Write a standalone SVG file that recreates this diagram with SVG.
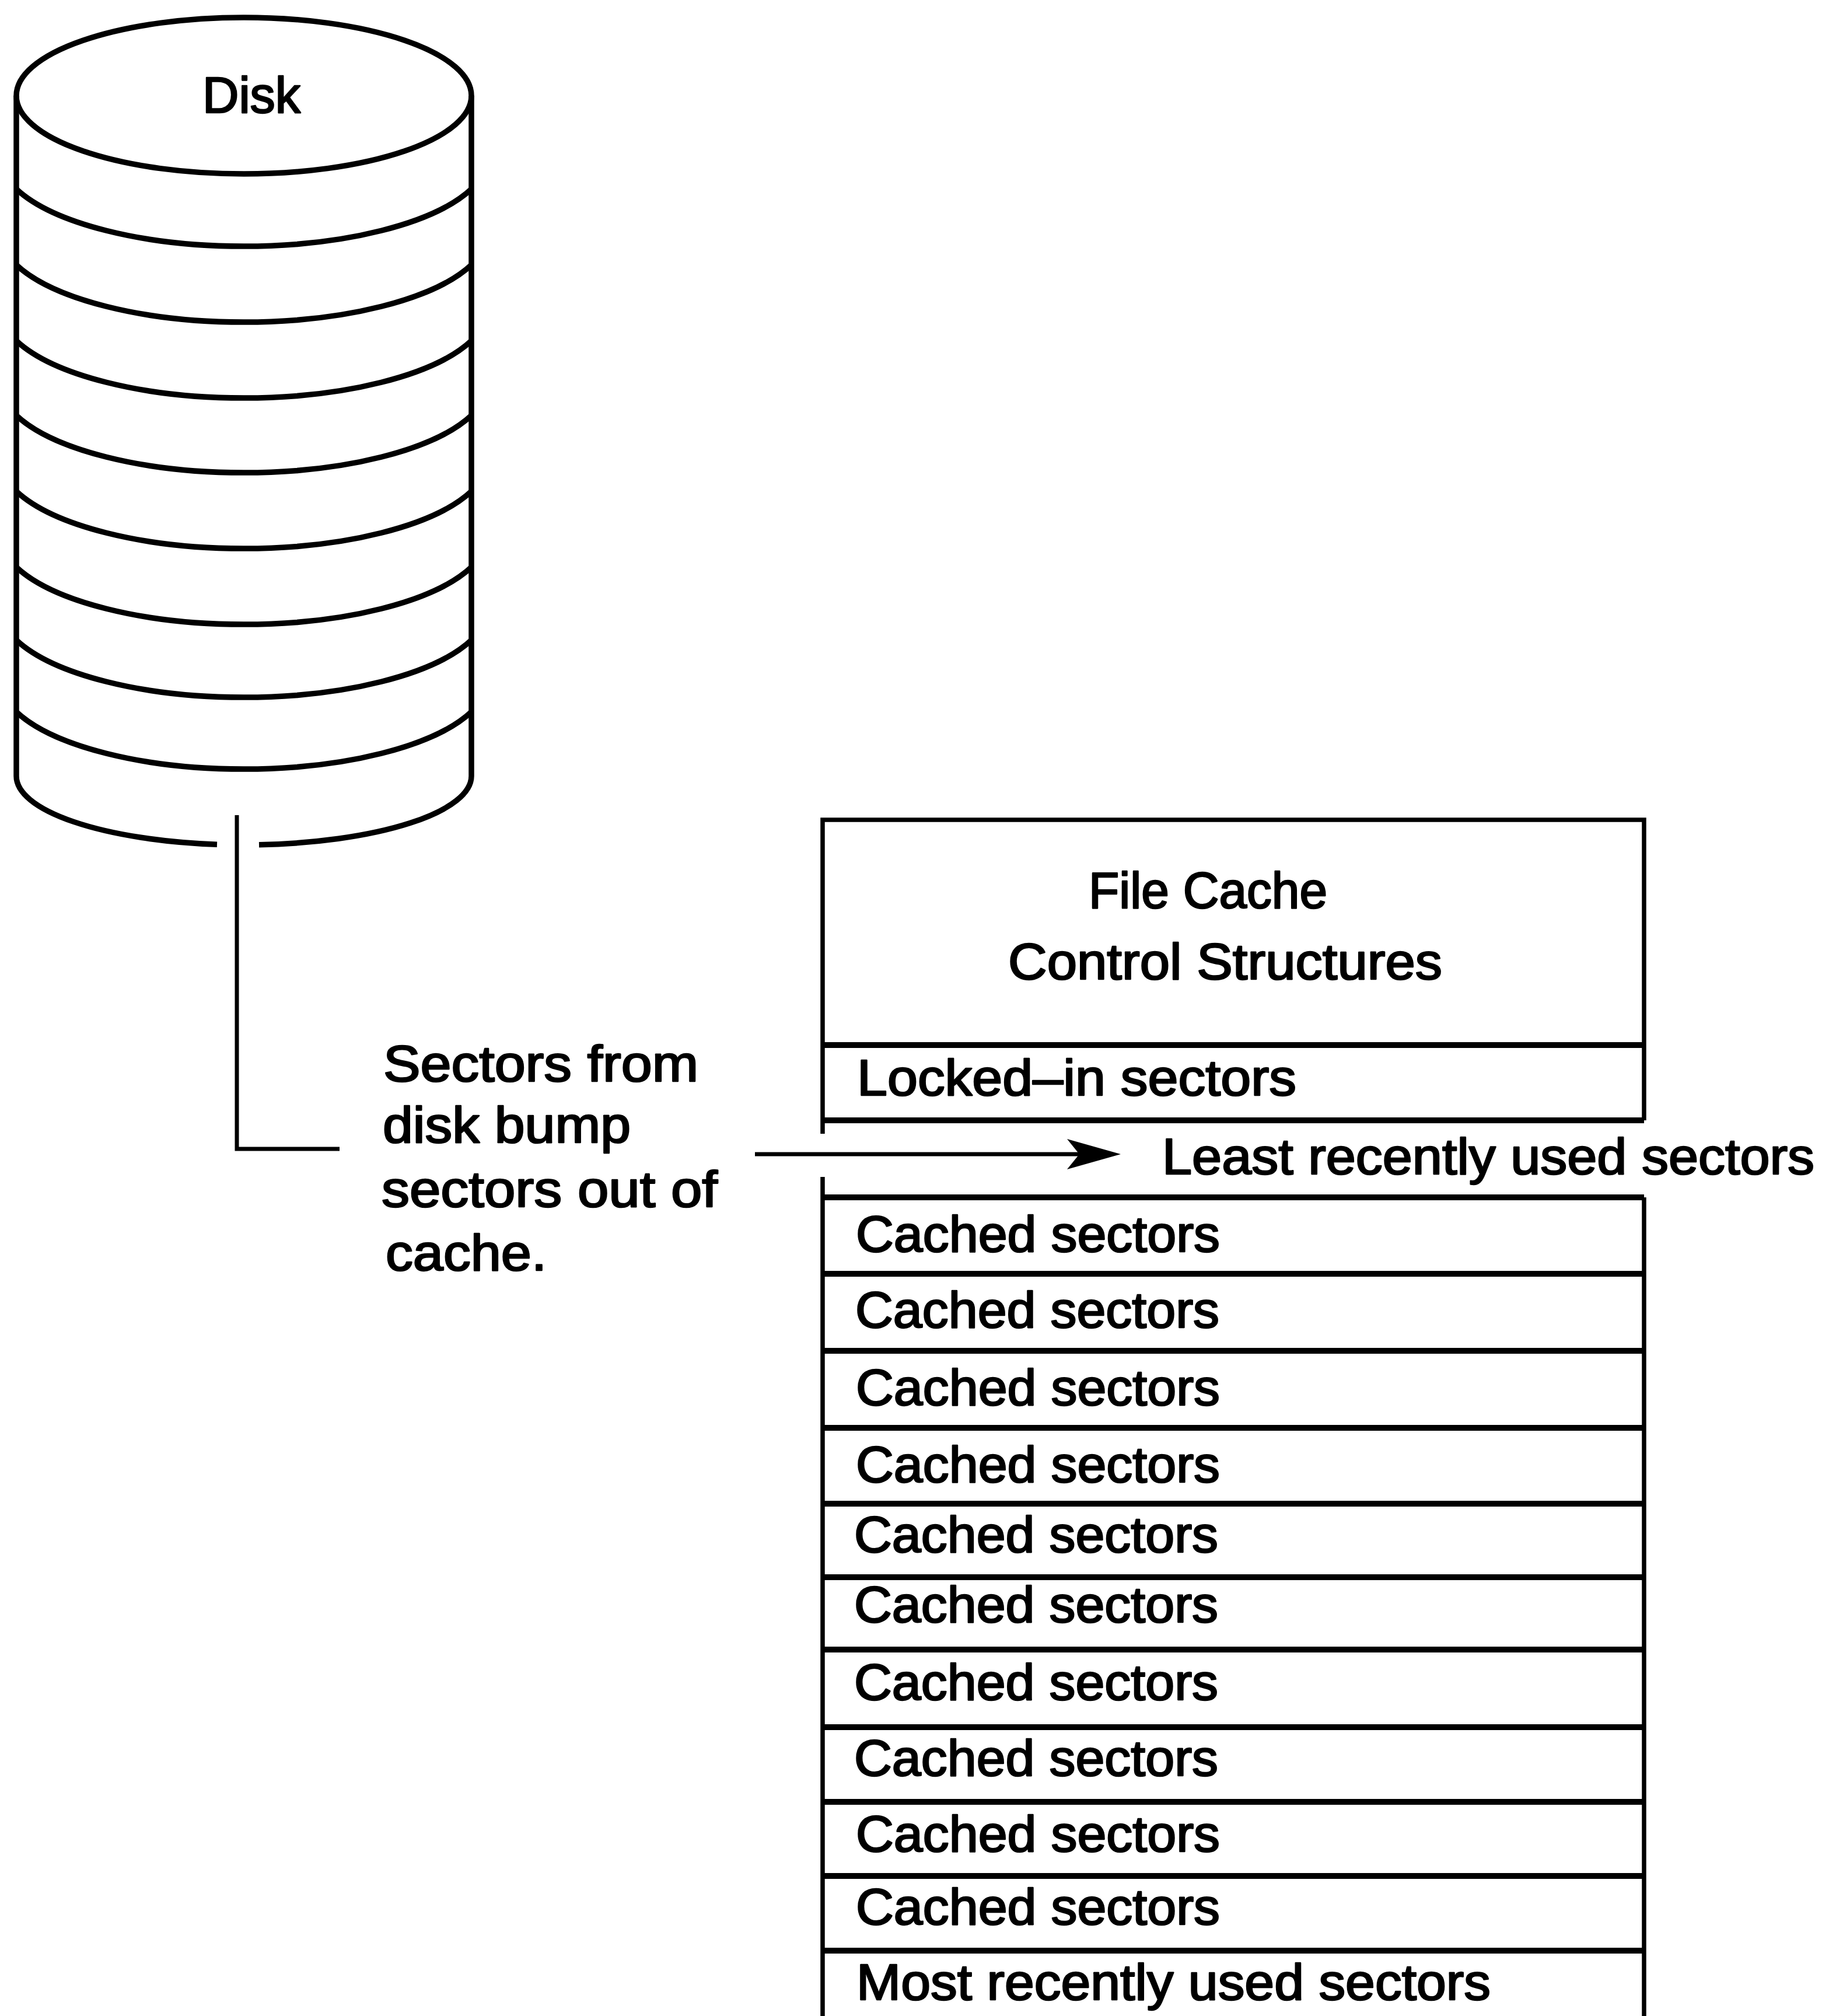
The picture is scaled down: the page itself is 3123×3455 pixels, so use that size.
<svg xmlns="http://www.w3.org/2000/svg" width="3123" height="3455" viewBox="0 0 3123 3455">
  <style>
    .ln { fill: none; stroke: #000; stroke-linecap: butt; stroke-linejoin: miter; }
    .disk { stroke-width: 9.5; }
    .row { stroke-width: 10; }
    .edge { stroke-width: 7.5; }
    .wire { stroke-width: 7; }
    .t { font-family: "Liberation Sans", Arial, sans-serif; font-size: 88px; fill: #000; stroke: #000; stroke-width: 2.6; stroke-linejoin: round; }
  </style>
  <defs>
    <marker id="arrowhead" viewBox="0 0 92 52" refX="40" refY="26" markerWidth="92" markerHeight="52" markerUnits="userSpaceOnUse" orient="auto">
      <path d="M0,0 L92,26 L0,52 L21,26 Z" fill="#000"/>
    </marker>
  </defs>

  <rect width="3123" height="3455" fill="#fff"/>

  <!-- Disk drawn as a stack of platters -->
  <g id="disk">
    <ellipse class="ln disk" cx="418" cy="164" rx="390" ry="134"/>
    <path class="ln disk" d="M28,164 V1330 M808,164 V1330"/>
    <path class="ln disk" d="M28,324 A420,156 0 0 0 808,324"/>
    <path class="ln disk" d="M28,454 A420,156 0 0 0 808,454"/>
    <path class="ln disk" d="M28,584 A420,156 0 0 0 808,584"/>
    <path class="ln disk" d="M28,712 A420,156 0 0 0 808,712"/>
    <path class="ln disk" d="M28,842 A420,156 0 0 0 808,842"/>
    <path class="ln disk" d="M28,972 A420,156 0 0 0 808,972"/>
    <path class="ln disk" d="M28,1097 A420,156 0 0 0 808,1097"/>
    <path class="ln disk" d="M28,1220 A420,156 0 0 0 808,1220"/>
    <path class="ln disk" d="M28,1330 A390,118 0 0 0 372,1447.2"/>
    <path class="ln disk" d="M444,1447.7 A390,118 0 0 0 808,1330"/>
    <text class="t" x="347" y="193" font-size="90" textLength="168" lengthAdjust="spacingAndGlyphs">Disk</text>
  </g>

  <!-- File cache: control structures, locked-in area, LRU list -->
  <g id="file-cache">
    <path class="ln edge" d="M1410,1943 V1405 H2818 V1920"/>
    <path class="ln row" d="M1410,1791 H2818 M1410,1920 H2818"/>
    <path class="ln edge" d="M1410,2017 V3460 M2818,2052 V3460"/>
    <path class="ln row" d="M1410,2052 H2818 M1410,2183 H2818 M1410,2315 H2818 M1410,2447 H2818 M1410,2577 H2818 M1410,2703 H2818 M1410,2827 H2818 M1410,2960 H2818 M1410,3088 H2818 M1410,3215 H2818 M1410,3343 H2818"/>
    <text class="t" x="1866" y="1556" textLength="409" lengthAdjust="spacingAndGlyphs">File Cache</text>
    <text class="t" x="1728" y="1678" textLength="744" lengthAdjust="spacingAndGlyphs">Control Structures</text>
    <text class="t" x="1469" y="1877" textLength="753" lengthAdjust="spacingAndGlyphs">Locked–in sectors</text>
    <text class="t" x="1467" y="2145" textLength="624" lengthAdjust="spacingAndGlyphs">Cached sectors</text>
    <text class="t" x="1466" y="2275" textLength="624" lengthAdjust="spacingAndGlyphs">Cached sectors</text>
    <text class="t" x="1467" y="2408" textLength="624" lengthAdjust="spacingAndGlyphs">Cached sectors</text>
    <text class="t" x="1467" y="2540" textLength="624" lengthAdjust="spacingAndGlyphs">Cached sectors</text>
    <text class="t" x="1464" y="2660" textLength="624" lengthAdjust="spacingAndGlyphs">Cached sectors</text>
    <text class="t" x="1464" y="2780" textLength="624" lengthAdjust="spacingAndGlyphs">Cached sectors</text>
    <text class="t" x="1464" y="2913" textLength="624" lengthAdjust="spacingAndGlyphs">Cached sectors</text>
    <text class="t" x="1464" y="3043" textLength="624" lengthAdjust="spacingAndGlyphs">Cached sectors</text>
    <text class="t" x="1467" y="3173" textLength="624" lengthAdjust="spacingAndGlyphs">Cached sectors</text>
    <text class="t" x="1467" y="3298" textLength="624" lengthAdjust="spacingAndGlyphs">Cached sectors</text>
    <text class="t" x="1468" y="3427" textLength="1087" lengthAdjust="spacingAndGlyphs">Most recently used sectors</text>
  </g>

  <!-- Annotation beside the disk lead -->
  <g id="bump-note">
    <text class="t" x="657" y="1853" textLength="540" lengthAdjust="spacingAndGlyphs">Sectors from</text>
    <text class="t" x="656" y="1958" textLength="425" lengthAdjust="spacingAndGlyphs">disk bump</text>
    <text class="t" x="654" y="2068" textLength="576" lengthAdjust="spacingAndGlyphs">sectors out of</text>
    <text class="t" x="661" y="2177" textLength="276" lengthAdjust="spacingAndGlyphs">cache.</text>
  </g>

  <!-- Label for the eviction end of the list -->
  <g id="lru-label">
    <text class="t" x="1992" y="2012" textLength="1118" lengthAdjust="spacingAndGlyphs">Least recently used sectors</text>
  </g>

  <g id="connectors">
    <path class="ln wire" d="M406,1397 V1969 H582"/>
    <path class="ln wire" d="M1294,1978 H1869" marker-end="url(#arrowhead)"/>
  </g>
</svg>
